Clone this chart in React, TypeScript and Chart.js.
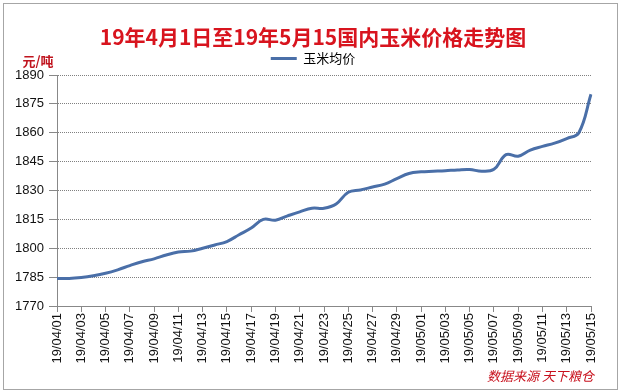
import React, { useEffect, useRef } from "react";
import { Chart, registerables } from "chart.js";

Chart.register(...registerables);

const dates = [
  "19/04/01", "19/04/02", "19/04/03", "19/04/04", "19/04/05", "19/04/06", "19/04/07", "19/04/08",
  "19/04/09", "19/04/10", "19/04/11", "19/04/12", "19/04/13", "19/04/14", "19/04/15", "19/04/16",
  "19/04/17", "19/04/18", "19/04/19", "19/04/20", "19/04/21", "19/04/22", "19/04/23", "19/04/24",
  "19/04/25", "19/04/26", "19/04/27", "19/04/28", "19/04/29", "19/04/30", "19/05/01", "19/05/02",
  "19/05/03", "19/05/04", "19/05/05", "19/05/06", "19/05/07", "19/05/08", "19/05/09", "19/05/10",
  "19/05/11", "19/05/12", "19/05/13", "19/05/14", "19/05/15",
];

const prices = [
  1784.3, 1784.3, 1784.8, 1785.7, 1787.0, 1788.8, 1791.0, 1793.0,
  1794.5, 1796.5, 1798.0, 1798.5, 1800.0, 1801.7, 1803.5, 1807.0,
  1810.5, 1815.0, 1814.6, 1816.8, 1818.9, 1820.8, 1820.8, 1823.0,
  1829.1, 1830.3, 1831.8, 1833.3, 1836.2, 1838.8, 1839.7, 1840.0,
  1840.3, 1840.7, 1840.9, 1840.0, 1841.0, 1848.6, 1847.8, 1851.0,
  1852.9, 1854.6, 1857.0, 1860.0, 1880.0,
];

const yMin = 1770;
const yMax = 1890;
const yStep = 15;

const titleText = "19年4月1日至19年5月15国内玉米价格走势图";
const seriesName = "玉米均价";
const unitText = "元/吨";
const sourceText = "数据来源 天下粮仓";

const CJK = "'Noto Sans CJK SC', sans-serif";
const LATIN = "'Liberation Sans', Arial, sans-serif";

export default function App() {
  const ref = useRef<HTMLCanvasElement>(null);

  useEffect(() => {
    if (!ref.current) return;
    const extras = {
      id: "extras",
      beforeDraw(chart: any) {
        const ctx = chart.ctx;
        ctx.save();
        ctx.fillStyle = "#ffffff";
        ctx.fillRect(0, 0, chart.width, chart.height);
        ctx.strokeStyle = "#a6a6a6";
        ctx.lineWidth = 1;
        ctx.strokeRect(3.5, 3.5, 614, 386);
        ctx.restore();
      },
      afterDraw(chart: any) {
        const ctx = chart.ctx;
        ctx.save();
        ctx.fillStyle = "#c0141e";
        ctx.font = "bold 13px " + CJK;
        ctx.textAlign = "center";
        ctx.textBaseline = "middle";
        ctx.fillText(unitText, 38, 61);
        ctx.fillStyle = "#c8101c";
        ctx.font = "italic 13px " + CJK;
        ctx.textAlign = "right";
        ctx.fillText(sourceText, 594, 376);
        ctx.restore();
      },
    };

    const chart = new Chart(ref.current, {
      type: "line",
      data: {
        labels: dates,
        datasets: [
          {
            label: seriesName,
            data: prices,
            borderColor: "#4a6fa8",
            backgroundColor: "#4a6fa8",
            borderWidth: 3,
            pointRadius: 0,
            pointStyle: "line",
            tension: 0.4,
            fill: false,
          },
        ],
      },
      options: {
        responsive: false,
        animation: false,
        layout: { padding: { top: 0, left: 6, right: 0, bottom: 26 } },
        plugins: {
          title: {
            display: true,
            text: titleText,
            color: "#d8141e",
            font: { size: 21, weight: "bold", family: CJK, lineHeight: 1 },
            padding: { top: 27, bottom: 0 },
          },
          legend: {
            display: true,
            position: "top",
            labels: {
              usePointStyle: true,
              pointStyleWidth: 26,
              boxHeight: 13,
              padding: 4,
              color: "#000",
              font: { size: 13, family: CJK },
            },
          },
          tooltip: { enabled: false },
        },
        scales: {
          x: {
            type: "category",
            offset: false,
            afterFit: (s: any) => {
              s.height = 60;
            },
            grid: {
              display: true,
              drawOnChartArea: false,
              drawTicks: true,
              tickLength: 6,
              color: (c: any) => (c.index % 2 === 0 ? "#888888" : "rgba(0,0,0,0)"),
              tickColor: (c: any) => (c.index % 2 === 0 ? "#888888" : "rgba(0,0,0,0)"),
            },
            border: { display: true, color: "#888888", width: 1 },
            ticks: {
              autoSkip: false,
              minRotation: 90,
              maxRotation: 90,
              padding: 1,
              color: "#111",
              font: { size: 13, family: LATIN },
              callback: (_v: any, i: number) => (i % 2 === 0 ? dates[i] : ""),
            },
          },
          y: {
            min: yMin,
            max: yMax,
            afterFit: (s: any) => {
              s.width = 51;
            },
            ticks: {
              stepSize: yStep,
              padding: 5,
              color: "#111",
              font: { size: 13, family: LATIN },
              callback: (v: any) => String(v),
            },
            grid: {
              color: "#808080",
              tickLength: 8,
              tickColor: "#888888",
              tickBorderDash: [],
              drawTicks: true,
            },
            border: { display: true, color: "#888888", width: 1, dash: [1, 1] },
          },
          y2: {
            position: "right",
            display: true,
            grid: { display: false, drawTicks: false },
            ticks: { display: false },
            border: { display: false },
            afterFit: (s: any) => {
              s.width = 29;
            },
          },
        },
      } as any,
      plugins: [extras],
    });
    return () => chart.destroy();
  }, []);

  return (
    <div style={{ position: "absolute", left: 0, top: 0, width: 620, height: 392 }}>
      <canvas ref={ref} width={620} height={392} style={{ display: "block" }} />
    </div>
  );
}
